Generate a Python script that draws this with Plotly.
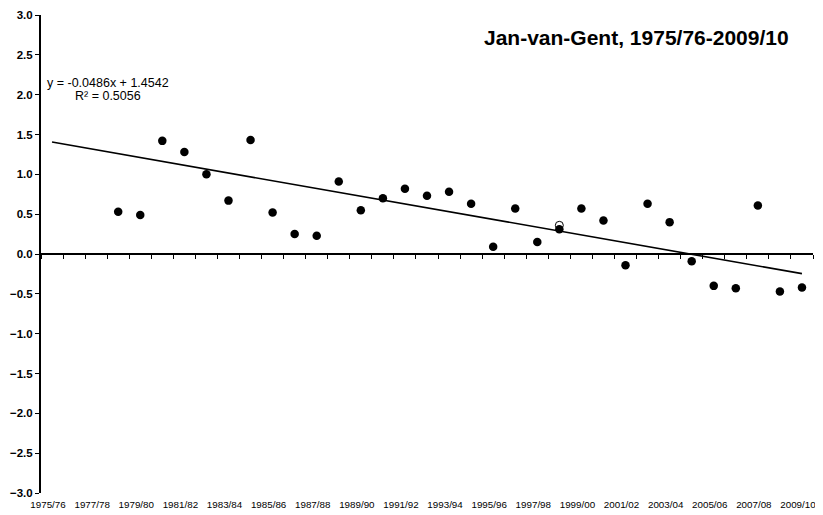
import plotly.graph_objects as go

seasons = [
    "1975/76", "1976/77", "1977/78", "1978/79", "1979/80", "1980/81", "1981/82",
    "1982/83", "1983/84", "1984/85", "1985/86", "1986/87", "1987/88", "1988/89",
    "1989/90", "1990/91", "1991/92", "1992/93", "1993/94", "1994/95", "1995/96",
    "1996/97", "1997/98", "1998/99", "1999/00", "2000/01", "2001/02", "2002/03",
    "2003/04", "2004/05", "2005/06", "2006/07", "2007/08", "2008/09", "2009/10",
]
index_values = [
    None, None, None, 0.53, 0.49, 1.42, 1.28, 1.00, 0.67, 1.43, 0.52, 0.25,
    0.23, 0.91, 0.55, 0.70, 0.82, 0.73, 0.78, 0.63, 0.09, 0.57, 0.15, 0.31,
    0.57, 0.42, -0.14, 0.63, 0.40, -0.09, -0.40, -0.43, 0.61, -0.47, -0.42,
]
open_season = ["1998/99"]
open_value = [0.36]

# Excel linear trendline, x = 1..n
trend_slope = -0.0486
trend_intercept = 1.4542
trend_r2 = 0.5056

FONT = "Liberation Sans, Arial, sans-serif"

trend_x = [seasons[0], seasons[-1]]
trend_y = [trend_slope * 1 + trend_intercept, trend_slope * len(seasons) + trend_intercept]

fig = go.Figure()

fig.add_trace(go.Scatter(
    x=trend_x, y=trend_y, mode="lines",
    line=dict(color="black", width=1.6), hoverinfo="skip",
))
fig.add_trace(go.Scatter(
    x=open_season, y=open_value, mode="markers",
    marker=dict(size=8, color="white", line=dict(color="black", width=1)),
))
fig.add_trace(go.Scatter(
    x=seasons, y=index_values, mode="markers",
    marker=dict(size=8.5, color="black", line=dict(width=0)),
))
# invisible trace carrying the zero-line axis with the tick marks
fig.add_trace(go.Scatter(
    x=seasons, y=[None] * len(seasons), xaxis="x2", mode="markers",
    hoverinfo="skip",
))

# page body has an 8px margin, so margins are offset by it
fig.update_layout(
    width=815, height=507,
    margin=dict(l=33, r=10, t=7, b=22),
    paper_bgcolor="white", plot_bgcolor="white",
    showlegend=False,
    font=dict(family=FONT, color="black"),
    xaxis=dict(
        type="category", categoryorder="array", categoryarray=seasons,
        range=[-0.5, len(seasons) - 0.5], automargin=False,
        showline=False, showgrid=False, zeroline=False, ticks="",
        dtick=2, tick0=0, tickangle=0, ticklabelstandoff=4,
        ticklabelshift=-4,  # keeps the last label inside the window
        tickfont=dict(size=9.8, family=FONT),
        ticklen=0,
    ),
    xaxis2=dict(
        type="category", categoryorder="array", categoryarray=seasons,
        range=[-0.5, len(seasons) - 0.5], automargin=False,
        overlaying="x", anchor="free", position=0.5,
        showline=True, linecolor="black", linewidth=2,
        ticks="outside", tickson="boundaries", ticklen=4, tickwidth=1,
        tickcolor="black", dtick=1,
        showticklabels=False, showgrid=False, zeroline=False,
    ),
    yaxis=dict(
        range=[-3, 3], dtick=0.5, tickformat=".1f", automargin=False,
        showline=True, linecolor="black", linewidth=2,
        ticks="outside", ticklen=4, tickwidth=1, tickcolor="black",
        showgrid=False, zeroline=False,
        tickfont=dict(size=11.5, family=FONT, weight="bold"),
    ),
    annotations=[
        dict(
            text="Jan-van-Gent, 1975/76-2009/10", xref="paper", yref="paper",
            x=0.972, y=0.952, xanchor="right", yanchor="middle", showarrow=False,
            font=dict(size=21, family=FONT, weight="bold"),
        ),
        dict(
            text=f"y = {trend_slope:.4f}x + {trend_intercept:.4f}",
            xref="paper", yref="paper", x=0.0868, y=0.858,
            xanchor="center", yanchor="middle", showarrow=False,
            font=dict(size=12.5, family=FONT),
        ),
        dict(
            text=f"R² = {trend_r2:.4f}",
            xref="paper", yref="paper", x=0.0868, y=0.8305,
            xanchor="center", yanchor="middle", showarrow=False,
            font=dict(size=12.5, family=FONT),
        ),
    ],
)

fig.write_html("out.html")
